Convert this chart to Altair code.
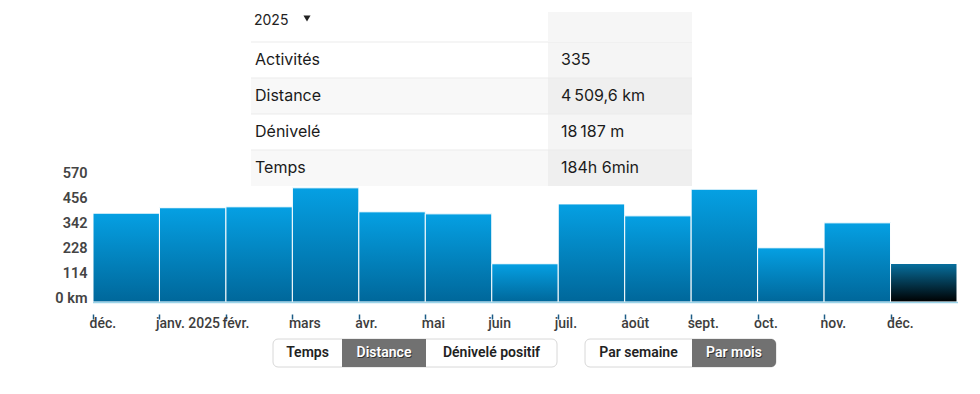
import altair as alt
import pandas as pd

# ---------------- data ----------------
months = ["déc.", "janv. 2025", "févr.", "mars", "avr.", "mai", "juin",
          "juil.", "août", "sept.", "oct.", "nov.", "déc."]
distance_km = [405.0, 429.8, 434.0, 520.6, 411.2, 401.9, 174.3,
               447.2, 392.8, 514.3, 247.1, 360.9, 175.5]
is_current = [False] * 12 + [True]
y_ticks = [0, 114, 228, 342, 456, 570]

year_label = "2025"
stat_names = ["Activités", "Distance", "Dénivelé", "Temps"]
stat_values = ["335", "4\u2009509,6 km", "18\u2009187 m", "184h 6min"]

metric_buttons = ["Temps", "Distance", "Dénivelé positif"]
metric_active = [False, True, False]
period_buttons = ["Par semaine", "Par mois"]
period_active = [False, True]

# ---------------- layout (page pixels) ----------------
W, H = 864, 125
OX, OY = 93, 177            # page position of plot origin
def px(x): return x - OX
def py(y): return y - OY

TAB_L, TAB_M, TAB_R = 251, 548, 692
HEAD_T, ROW_T, ROW_H = 12, 42, 36
BTN_T, BTN_B = 339, 367
metric_edges = [273, 342, 426, 557]
period_edges = [585, 692, 776]

IDX = alt.Scale(domain=[0, W], range=[0, W], nice=False, zero=False)
IDY = alt.Scale(domain=[0, H], range=[0, H], nice=False, zero=False)

# ---------------- bars ----------------
bars_df = pd.DataFrame({
    "i": list(range(len(months))),
    "i2": [k + 1 for k in range(len(months))],
    "month": months,
    "km": distance_km,
    "current": is_current,
})

label_expr = "[" + ",".join("'" + m + "'" for m in months) + "][datum.value]"

x_axis = alt.Axis(values=list(range(len(months))), labelExpr=label_expr,
                  domain=False, grid=False, offset=12,
                  tickSize=5, tickWidth=1.5, tickColor="#1d5c86",
                  labelAlign="left", labelOffset=-4, labelPadding=-3,
                  labelBaseline="top", labelFlush=False, labelOverlap=False,
                  labelBound=False,
                  labelFont="Roboto", labelFontSize=14, labelFontWeight=500,
                  labelColor="#3d3d3d")
y_axis = alt.Axis(values=y_ticks,
                  labelExpr="datum.value == 0 ? '0 km' : datum.label",
                  domain=False, ticks=False, tickSize=0, grid=False,
                  labelPadding=6, labelBaseline="alphabetic",
                  labelOverlap=False, labelFlush=False, labelBound=False,
                  labelFont="Roboto", labelFontSize=14.5, labelFontWeight=600,
                  labelColor="#444444")
x_scale = alt.Scale(domain=[0, len(months)], nice=False, zero=False)
y_scale = alt.Scale(domain=[0, 570], nice=False)

blue_grad = alt.Gradient(gradient="linear",
                         stops=[alt.GradientStop(color="#05a0e3", offset=0),
                                alt.GradientStop(color="#00679a", offset=1)],
                         x1=0, x2=0, y1=0, y2=1)
dark_grad = alt.Gradient(gradient="linear",
                         stops=[alt.GradientStop(color="#07709f", offset=0),
                                alt.GradientStop(color="#000000", offset=1)],
                         x1=0, x2=0, y1=0, y2=1)

base = alt.Chart(bars_df)
bars = base.mark_bar(fill=blue_grad, stroke="white", strokeWidth=1).encode(
    x=alt.X("i:Q", title=None, scale=x_scale, axis=x_axis), x2="i2:Q",
    y=alt.Y("km:Q", title=None, scale=y_scale, axis=y_axis), y2=alt.datum(0)
).transform_filter("!datum.current")
bars_cur = base.mark_bar(fill=dark_grad, stroke="white", strokeWidth=1).encode(
    x=alt.X("i:Q", title=None, scale=x_scale, axis=x_axis), x2="i2:Q",
    y=alt.Y("km:Q", title=None, scale=y_scale, axis=y_axis), y2=alt.datum(0)
).transform_filter("datum.current")
baseline = alt.Chart(pd.DataFrame({"k": [0]})).mark_rule(
    color="#9bd4e9", strokeWidth=1.5).encode(
    x=alt.value(0), x2=alt.value(W + 1), y=alt.value(H + 0.5))

bar_layer = alt.layer(bars, bars_cur, baseline)

# ---------------- table ----------------
tab_df = pd.DataFrame({
    "name": stat_names,
    "value": stat_values,
    "k": list(range(len(stat_names))),
})
tab = alt.Chart(tab_df).transform_calculate(
    top=f"{py(ROW_T)} + datum.k * {ROW_H}",
    bot=f"{py(ROW_T)} + (datum.k + 1) * {ROW_H}",
    mid=f"{py(ROW_T)} + (datum.k + 0.5) * {ROW_H}",
)
tab_left = tab.mark_rect().encode(
    x=alt.value(px(TAB_L)), x2=alt.value(px(TAB_M)),
    y=alt.Y("top:Q", scale=IDY, axis=None), y2="bot:Q",
    fill=alt.condition("datum.k % 2 == 1", alt.value("#f8f8f8"), alt.value("#ffffff")))
tab_right = tab.mark_rect().encode(
    x=alt.value(px(TAB_M)), x2=alt.value(px(TAB_R)),
    y=alt.Y("top:Q", scale=IDY, axis=None), y2="bot:Q",
    fill=alt.condition("datum.k % 2 == 1", alt.value("#efefef"), alt.value("#f5f5f5")))
tab_lines = tab.mark_rule(color="#ebebeb", strokeWidth=1).encode(
    x=alt.value(px(TAB_L)), x2=alt.value(px(TAB_R)),
    y=alt.Y("top:Q", scale=IDY, axis=None))
tab_names = tab.mark_text(align="left", baseline="middle", font="Inter",
                          fontSize=16, color="#1b1b1b").encode(
    x=alt.value(px(TAB_L + 4)), y=alt.Y("mid:Q", scale=IDY, axis=None), text="name:N")
tab_vals = tab.mark_text(align="left", baseline="middle", font="Inter",
                         fontSize=16, color="#1b1b1b").encode(
    x=alt.value(px(TAB_M + 13)), y=alt.Y("mid:Q", scale=IDY, axis=None), text="value:N")

head_df = pd.DataFrame({"year": [year_label]})
head_right = alt.Chart(head_df).mark_rect(fill="#f6f6f6").encode(
    x=alt.value(px(TAB_M)), x2=alt.value(px(TAB_R)),
    y=alt.value(py(HEAD_T)), y2=alt.value(py(ROW_T)))
head_text = alt.Chart(head_df).mark_text(align="left", baseline="middle", font="Inter",
                                         fontSize=14, color="#222222").encode(
    x=alt.value(px(254)), y=alt.value(py(20.5)), text="year:N")
head_arrow = alt.Chart(head_df).mark_point(shape="triangle-down", filled=True, size=50,
                                           color="#222222", opacity=1).encode(
    x=alt.value(px(307)), y=alt.value(py(18.5)))

# ---------------- buttons ----------------
def seg_rows(labels, active, edges, group):
    rows = []
    n = len(labels)
    for k in range(n):
        rows.append({"label": labels[k], "active": active[k], "group": group,
                     "x0": px(edges[k]), "x1": px(edges[k + 1]),
                     "pos": "last" if k == n - 1 else ("first" if k == 0 else "mid")})
    return rows

btn_df = pd.DataFrame(seg_rows(metric_buttons, metric_active, metric_edges, "m") +
                      seg_rows(period_buttons, period_active, period_edges, "p"))
grp_df = pd.DataFrame({"x0": [px(metric_edges[0]), px(period_edges[0])],
                       "x1": [px(metric_edges[-1]), px(period_edges[-1])]})

btn = alt.Chart(btn_df).transform_calculate(cx="(datum.x0 + datum.x1) / 2")
grp_bg = alt.Chart(grp_df).mark_rect(fill="white", stroke="#d8d8d8", strokeWidth=1,
                                     cornerRadius=5).encode(
    x=alt.X("x0:Q", scale=IDX, axis=None), x2="x1:Q",
    y=alt.value(py(BTN_T)), y2=alt.value(py(BTN_B)))
btn_act_mid = btn.mark_rect(fill="#717171").encode(
    x=alt.X("x0:Q", scale=IDX, axis=None), x2="x1:Q",
    y=alt.value(py(BTN_T)), y2=alt.value(py(BTN_B))).transform_filter(
    "datum.active && datum.pos != 'last'")
btn_act_last = btn.mark_rect(fill="#717171", cornerRadiusTopRight=5,
                             cornerRadiusBottomRight=5).encode(
    x=alt.X("x0:Q", scale=IDX, axis=None), x2="x1:Q",
    y=alt.value(py(BTN_T)), y2=alt.value(py(BTN_B))).transform_filter(
    "datum.active && datum.pos == 'last'")
btn_shadow = btn.mark_text(font="Roboto", fontSize=14, fontWeight=700, color="#333333",
                           baseline="middle", align="center", dx=0.8, dy=0.8).encode(
    x=alt.X("cx:Q", scale=IDX, axis=None), y=alt.value(py(353)),
    text="label:N").transform_filter("datum.active")
btn_text = btn.mark_text(font="Roboto", fontSize=14, fontWeight=600,
                         baseline="middle", align="center").encode(
    x=alt.X("cx:Q", scale=IDX, axis=None), y=alt.value(py(353)),
    text="label:N",
    color=alt.condition("datum.active", alt.value("#ffffff"), alt.value("#222222")))

chart = alt.layer(
    bar_layer,
    tab_left, tab_right, tab_lines, tab_names, tab_vals,
    head_right, head_text, head_arrow,
    grp_bg, btn_act_mid, btn_act_last, btn_shadow, btn_text,
).resolve_scale(x="independent", y="independent").properties(
    width=W, height=H,
    autosize=alt.AutoSizeParams(type="none"),
    padding={"left": 85, "top": 169, "right": 15, "bottom": 80},
).configure(
    background="white",
    view=alt.ViewConfig(stroke="transparent", strokeWidth=0),
    axis=alt.AxisConfig(labelOverlap=False),
)

chart.save("out.html", embed_options={"renderer": "svg", "actions": False})
